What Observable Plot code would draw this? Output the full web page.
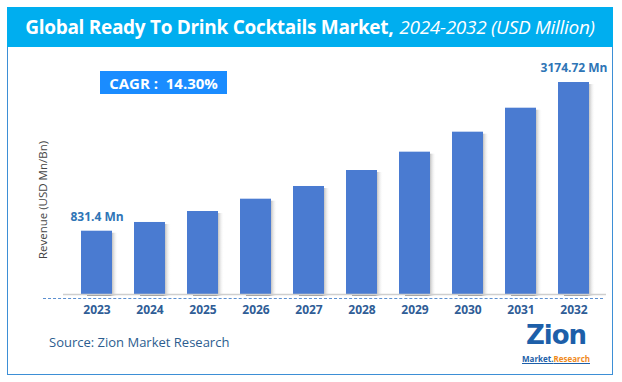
<!DOCTYPE html>
<html>
<head>
<meta charset="utf-8">
<script src="https://cdn.jsdelivr.net/npm/d3@7"></script>
<script src="https://cdn.jsdelivr.net/npm/@observablehq/plot@0.6"></script>
<style>
  html, body { margin: 0; padding: 0; background: #fff; }
  body { width: 622px; height: 382px; position: relative; overflow: hidden; font-family: "Open Sans", "Noto Sans", sans-serif; }
  #frame { position: absolute; left: 7px; top: 7px; width: 604px; height: 366px; border: 1px solid #3d8fd6; }
  #banner { position: absolute; left: 7px; top: 7px; width: 606px; height: 40px; background: #00aeef; color: #fff;
            display: flex; align-items: center; justify-content: center; font-size: 19px; letter-spacing: -0.3px; }
  #banner b { font-weight: 700; }
  #banner i { font-weight: 400; margin-left: 6px; }
  #cagr { position: absolute; left: 100px; top: 71px; width: 127px; height: 23px; background: #1a8cff; color: #fff;
          font-weight: 700; font-size: 15px; display: flex; align-items: center; justify-content: center; white-space: pre; }
  #chart { position: absolute; left: 0; top: 50px; }
  #dash { position: absolute; left: 43px; top: 298px; width: 560px; border-top: 1px dashed #5b8fd0; }
  #ylabel { position: absolute; left: 42px; top: 200px; transform: translate(-50%, -50%) rotate(-90deg);
            font-size: 11.5px; color: #444; white-space: nowrap; }
  #source { position: absolute; left: 49px; top: 333px; font-size: 13px; color: #2c5d8f; }
  #logo { position: absolute; left: 518px; top: 320px; width: 76px; text-align: center; }
  #logo .z { font-family: "DejaVu Sans", sans-serif; font-weight: 900; font-size: 26px; color: #1d5fa9; line-height: 31px; height: 31px; letter-spacing: -1px; }
  #logo .m { font-size: 8px; font-weight: 700; color: #1d5fa9; line-height: 10px; margin-top: 3px; text-decoration: underline; }
  #logo .m span { color: #f08a1c; }
</style>
</head>
<body>
<div id="frame"></div>
<div id="banner"><b>Global Ready To Drink Cocktails Market,</b><i>2024-2032 (USD Million)</i></div>
<div id="chart"></div>
<div id="dash"></div>
<div id="cagr">CAGR :  14.30%</div>
<div id="ylabel">Revenue (USD Mn/Bn)</div>
<div id="source">Source: Zion Market Research</div>
<div id="logo"><div class="z">Zion</div><div class="m">Market.<span>Research</span></div></div>
<script>
const years = ["2023","2024","2025","2026","2027","2028","2029","2030","2031","2032"];
const revenue = [831.4, 969, 1142, 1336, 1536, 1788, 2077, 2392, 2770, 3174.72];
const valueLabels = ["831.4 Mn", "", "", "", "", "", "", "", "", "3174.72 Mn"];
const yDomain = [-166, 3364];

const data = years.map((y, i) => ({year: y, value: revenue[i], label: valueLabels[i]}));

const plot = Plot.plot({
  width: 622,
  height: 280,
  marginTop: 20,
  marginBottom: 36,
  marginLeft: 63,
  marginRight: 16,
  style: {fontFamily: "'Open Sans', 'Noto Sans', sans-serif", background: "transparent", overflow: "visible"},
  x: {domain: years, paddingInner: 0.42, paddingOuter: 0.3, label: null},
  y: {domain: yDomain, axis: null},
  marks: [
    Plot.rectY(data, {x: "year", y1: yDomain[0], y2: "value", dx: 6, dy: 2, fill: "url(#shade)"}),
    Plot.rectY(data, {x: "year", y1: yDomain[0], y2: "value", fill: "#4a7bd1"}),
    Plot.ruleY([yDomain[0]], {stroke: "#cfcfcf", strokeWidth: 1.5}),
    Plot.text(data.filter(d => d.label), {x: "year", y: "value", text: "label", dy: -14, fill: "#2e75b6", fontWeight: "bold", fontSize: 12}),
    Plot.axisX({tickSize: 0, tickPadding: 11, fontSize: 12, fontWeight: "bold", color: "#2f5d96", label: null})
  ]
});
const svg = d3.select(plot);
const defs = svg.insert("defs", ":first-child");
const g = defs.append("linearGradient").attr("id", "shade").attr("x1", "0").attr("x2", "1").attr("y1", "0").attr("y2", "0");
g.append("stop").attr("offset", "0.75").attr("stop-color", "#777").attr("stop-opacity", 0.75);
g.append("stop").attr("offset", "1").attr("stop-color", "#fff").attr("stop-opacity", 0);
svg.selectAll("g[aria-label='tick label'] text").style("fill", "#2f5d96");
document.getElementById("chart").appendChild(plot);
</script>
</body>
</html>
